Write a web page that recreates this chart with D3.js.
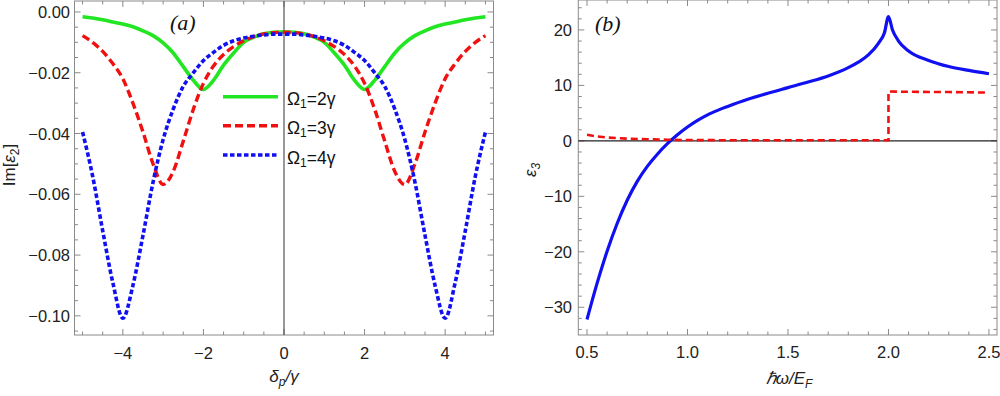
<!DOCTYPE html>
<html><head><meta charset="utf-8">
<script src="https://cdn.jsdelivr.net/npm/d3@7"></script>
<style>body{margin:0;background:#fff}svg{display:block}</style>
</head><body>
<svg id="c" width="1000" height="396"></svg>
<script>
// ---- Data: panel (a) ----
const deltaP = [-5,-4.75,-4.5,-4.25,-4,-3.75,-3.5,-3.25,-3,-2.75,-2.5,-2.25,-2,-1.75,-1.5,-1.25,-1,-0.75,-0.5,-0.25,0,
  0.25,0.5,0.75,1,1.25,1.5,1.75,2,2.25,2.5,2.75,3,3.25,3.5,3.75,4,4.25,4.5,4.75,5];
const omega2 = [-0.0016,-0.0020,-0.0026,-0.0033,-0.0040,-0.0049,-0.0062,-0.0078,-0.0102,-0.0135,-0.0180,-0.0225,-0.0255,-0.0225,-0.0175,-0.0135,-0.0100,-0.0083,-0.0072,-0.0067,-0.0065,
  -0.0067,-0.0072,-0.0083,-0.0100,-0.0135,-0.0175,-0.0225,-0.0255,-0.0225,-0.0180,-0.0135,-0.0102,-0.0078,-0.0062,-0.0049,-0.0040,-0.0033,-0.0026,-0.0020,-0.0016];
const omega3 = [-0.0078,-0.0100,-0.0130,-0.0170,-0.0220,-0.0300,-0.0395,-0.0500,-0.0568,-0.0525,-0.0425,-0.0320,-0.0235,-0.0178,-0.0140,-0.0114,-0.0095,-0.0081,-0.0072,-0.0068,-0.0067,
  -0.0068,-0.0072,-0.0081,-0.0095,-0.0114,-0.0140,-0.0178,-0.0235,-0.0320,-0.0425,-0.0525,-0.0568,-0.0500,-0.0395,-0.0300,-0.0220,-0.0170,-0.0130,-0.0100,-0.0078];
const omega4 = [-0.0395,-0.0540,-0.0720,-0.0890,-0.1008,-0.0900,-0.0735,-0.0560,-0.0420,-0.0320,-0.0245,-0.0200,-0.0160,-0.0133,-0.0110,-0.0095,-0.0086,-0.0080,-0.0076,-0.0073,-0.0073,
  -0.0073,-0.0076,-0.0080,-0.0086,-0.0095,-0.0110,-0.0133,-0.0160,-0.0200,-0.0245,-0.0320,-0.0420,-0.0560,-0.0735,-0.0900,-0.1008,-0.0890,-0.0720,-0.0540,-0.0395];
const legendLabels = ["2","3","4"];
const aXTicks = [-4,-2,0,2,4];
const aXTickLabels = ["\u22124","\u22122","0","2","4"];
const aYTicks = [0,-0.02,-0.04,-0.06,-0.08,-0.10];
const aYTickLabels = ["0.00","\u22120.02","\u22120.04","\u22120.06","\u22120.08","\u22120.10"];

// ---- Data: panel (b) ----
const hw = [0.50,0.55,0.60,0.65,0.70,0.75,0.80,0.85,0.90,0.95,1.00,1.05,1.10,1.15,1.20,1.30,1.40,1.50,1.60,1.70,1.80,1.85,1.90,1.95,1.98,2.00,2.02,2.05,2.10,2.20,2.30,2.40,2.50];
const eps3Blue = [-32.2,-25.7,-19.9,-14.9,-10.7,-7.3,-4.6,-2.4,-0.5,1.1,2.5,3.7,4.7,5.5,6.2,7.5,8.6,9.6,10.6,11.7,13.2,14.2,15.5,17.6,19.5,22.4,20.0,18.0,16.2,14.5,13.4,12.7,12.1];
const hwRed = [0.50,0.55,0.60,0.70,0.80,0.90,1.00,1.20,1.50,1.80,2.00,2.00,2.10,2.30,2.50];
const eps3Red = [1.1,0.8,0.6,0.4,0.3,0.2,0.15,0.12,0.1,0.1,0.1,8.9,8.85,8.8,8.7];
const bXTicks = [0.5,1.0,1.5,2.0,2.5];
const bXTickLabels = ["0.5","1.0","1.5","2.0","2.5"];
const bYTicks = [-30,-20,-10,0,10,20];
const bYTickLabels = ["\u221230","\u221220","\u221210","0","10","20"];

const svg = d3.select("#c");
const FONT = "'Liberation Sans', Arial, sans-serif";
const FS = 16.5;
const GREEN = "#22e622", RED = "#f01010", BLUE = "#1010f0";

function frame(g, x, y, xMaj, xMin, yMaj, yMin) {
  const [x0,x1] = x.range(), [y1,y0] = y.range();
  g.append("rect").attr("x",x0).attr("y",y0).attr("width",x1-x0).attr("height",y1-y0)
    .attr("fill","none").attr("stroke","#8a8a8a").attr("stroke-width",1);
  const tk = g.append("g").attr("stroke","#8a8a8a").attr("stroke-width",1);
  const addX = (arr, len) => arr.forEach(v => {
    const px = x(v);
    tk.append("line").attr("x1",px).attr("x2",px).attr("y1",y1).attr("y2",y1-len);
    tk.append("line").attr("x1",px).attr("x2",px).attr("y1",y0).attr("y2",y0+len);
  });
  const addY = (arr, len) => arr.forEach(v => {
    const py = y(v);
    tk.append("line").attr("y1",py).attr("y2",py).attr("x1",x0).attr("x2",x0+len);
    tk.append("line").attr("y1",py).attr("y2",py).attr("x1",x1).attr("x2",x1-len);
  });
  addX(xMaj,6); addX(xMin,3.5); addY(yMaj,6); addY(yMin,3.5);
}
function rangeTicks(a,b,s,maj){ const out=[]; for(let i=Math.round(a/s);i<=Math.round(b/s);i++){const v=+(i*s).toFixed(6); if(!maj.some(m=>Math.abs(m-v)<1e-9)) out.push(v);} return out; }

// ---------- Panel (a) ----------
const xa = d3.scaleLinear().domain([-5.2,5.2]).range([74.5,493.5]);
const ya = d3.scaleLinear().domain([-0.1063,0.0036]).range([335,1]);
const ga = svg.append("g");
frame(ga, xa, ya, aXTicks, rangeTicks(-5,5,0.5,aXTicks), aYTicks, rangeTicks(-0.105,0,0.005,aYTicks));
ga.append("line").attr("x1",xa(0)).attr("x2",xa(0)).attr("y1",1).attr("y2",335).attr("stroke","#444").attr("stroke-width",1.1);

const lineA = d3.line().x((d,i)=>xa(deltaP[i])).y(d=>ya(d)).curve(d3.curveMonotoneX);
const seriesA = [
  {vals: omega2, color: GREEN, dash: null, w: 3.6},
  {vals: omega3, color: RED, dash: "8,4", w: 3.4},
  {vals: omega4, color: BLUE, dash: "4.5,2.5", w: 3.6}
];
seriesA.forEach(s => {
  ga.append("path").attr("d", lineA(s.vals)).attr("fill","none").attr("stroke",s.color)
    .attr("stroke-width",s.w).attr("stroke-dasharray",s.dash);
});
// tick labels
aXTicks.forEach((v,i)=> ga.append("text").attr("x",xa(v)).attr("y",359).attr("text-anchor","middle")
  .attr("font-family",FONT).attr("font-size",FS).attr("fill","#222").text(aXTickLabels[i]));
aYTicks.forEach((v,i)=> ga.append("text").attr("x",70).attr("y",ya(v)+6).attr("text-anchor","end")
  .attr("font-family",FONT).attr("font-size",FS).attr("fill","#222").text(aYTickLabels[i]));
// legend
const legY = [96.7,125.7,155];
seriesA.forEach((s,i)=>{
  ga.append("line").attr("x1",223).attr("x2",278).attr("y1",legY[i]).attr("y2",legY[i])
    .attr("stroke",s.color).attr("stroke-width",s.w).attr("stroke-dasharray",s.dash);
  const t = ga.append("text").attr("x",287).attr("y",legY[i]+8.5).attr("font-family",FONT).attr("font-size",17.5).attr("fill","#111");
  t.append("tspan").text("\u03A9");
  t.append("tspan").attr("font-size",12).attr("dy",3).text("1");
  t.append("tspan").attr("dy",-3).text("=" + legendLabels[i] + "\u03B3");
});
// axis titles
const ta = ga.append("text").attr("x",284).attr("y",382).attr("text-anchor","middle").attr("font-family",FONT)
  .attr("font-size",17).attr("font-style","italic").attr("fill","#222");
ta.append("tspan").text("\u03B4");
ta.append("tspan").attr("font-size",12).attr("dy",4).text("p");
ta.append("tspan").attr("dy",-4).text("/\u03B3");
const tya = ga.append("text").attr("transform","translate(15,165) rotate(-90)").attr("text-anchor","middle")
  .attr("font-family",FONT).attr("font-size",17).attr("fill","#222");
tya.append("tspan").text("Im[");
tya.append("tspan").attr("font-style","italic").text("\u03B5");
tya.append("tspan").attr("font-size",12).attr("dy",4).text("2");
tya.append("tspan").attr("dy",-4).text("]");
ga.append("text").attr("x",170).attr("y",30).attr("font-family","'Liberation Serif', 'Times New Roman', serif")
  .attr("font-style","italic").attr("font-size",22).attr("fill","#111").text("(a)");

// ---------- Panel (b) ----------
const xb = d3.scaleLinear().domain([0.4567,2.54]).range([578.3,997]);
const yb = d3.scaleLinear().domain([-35,25.4]).range([335,0]);
const gb = svg.append("g");
frame(gb, xb, yb, bXTicks, rangeTicks(0.5,2.5,0.1,bXTicks), bYTicks, rangeTicks(-34,24,2,bYTicks));
gb.append("line").attr("x1",578.3).attr("x2",997).attr("y1",yb(0)).attr("y2",yb(0)).attr("stroke","#222").attr("stroke-width",1.1);

const lineB = d3.line().x(d=>xb(d[0])).y(d=>yb(d[1]));
gb.append("path").attr("d", lineB.curve(d3.curveMonotoneX)(hw.map((v,i)=>[v,eps3Blue[i]])))
  .attr("fill","none").attr("stroke",BLUE).attr("stroke-width",3.2);
gb.append("path").attr("d", d3.line().x(d=>xb(d[0])).y(d=>yb(d[1]))(hwRed.map((v,i)=>[v,eps3Red[i]])))
  .attr("fill","none").attr("stroke",RED).attr("stroke-width",2.6).attr("stroke-dasharray","7,4");

bXTicks.forEach((v,i)=> gb.append("text").attr("x",xb(v)).attr("y",358).attr("text-anchor","middle")
  .attr("font-family",FONT).attr("font-size",FS).attr("fill","#222").text(bXTickLabels[i]));
bYTicks.forEach((v,i)=> gb.append("text").attr("x",572).attr("y",yb(v)+6).attr("text-anchor","end")
  .attr("font-family",FONT).attr("font-size",FS).attr("fill","#222").text(bYTickLabels[i]));
const tb = gb.append("text").attr("x",789).attr("y",384).attr("text-anchor","middle").attr("font-family",FONT)
  .attr("font-size",17).attr("font-style","italic").attr("fill","#222");
tb.append("tspan").text("\u210F\u03C9/E");
tb.append("tspan").attr("font-size",12).attr("dy",4).text("F");
const tyb = gb.append("text").attr("transform","translate(536,170) rotate(-90)").attr("text-anchor","middle")
  .attr("font-family",FONT).attr("font-size",17).attr("font-style","italic").attr("fill","#222");
tyb.append("tspan").text("\u03B5");
tyb.append("tspan").attr("font-size",12).attr("dy",4).text("3");
gb.append("text").attr("x",595).attr("y",31).attr("font-family","'Liberation Serif', 'Times New Roman', serif")
  .attr("font-style","italic").attr("font-size",22).attr("fill","#111").text("(b)");
</script>
</body></html>
